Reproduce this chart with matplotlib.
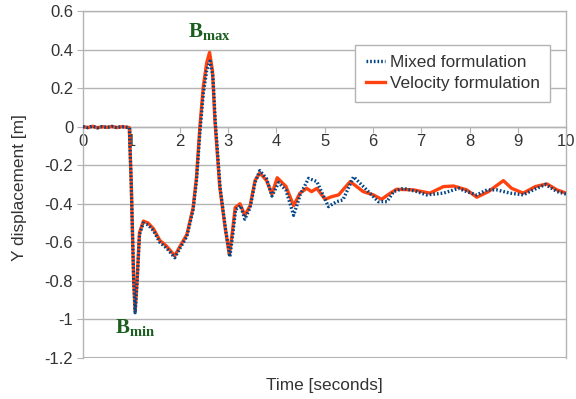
import matplotlib
matplotlib.use("Agg")
import matplotlib.pyplot as plt

plt.rcParams['font.family'] = ['Liberation Sans', 'DejaVu Sans']
plt.rcParams['mathtext.fontset'] = 'custom'
plt.rcParams['mathtext.rm'] = 'Liberation Serif'
plt.rcParams['mathtext.bf'] = 'Liberation Serif:bold'

# Velocity formulation
t_vel = [0, 0.1, 0.2, 0.3, 0.4, 0.5, 0.6, 0.7, 0.8, 0.9, 0.96, 1.0, 1.05, 1.08, 1.12, 1.17,
         1.25, 1.35, 1.46, 1.59, 1.73, 1.9, 2.01, 2.15, 2.28, 2.35, 2.42, 2.49, 2.56, 2.62,
         2.68, 2.73, 2.83, 2.94, 3.03, 3.09, 3.15, 3.25, 3.35, 3.46, 3.56, 3.66, 3.8, 3.91,
         4.02, 4.2, 4.36, 4.49, 4.63, 4.73, 4.84, 5.01, 5.15, 5.29, 5.53, 5.8, 6.01, 6.18,
         6.36, 6.49, 6.84, 7.18, 7.46, 7.67, 7.94, 8.15, 8.39, 8.7, 8.87, 9.11, 9.36, 9.6,
         9.81, 10.0]
v_vel = [0, -0.005, 0.002, -0.006, 0.0, -0.004, 0.001, -0.005, 0.0, -0.003, -0.005, -0.3,
         -0.8, -0.955, -0.8, -0.55, -0.49, -0.5, -0.53, -0.59, -0.62, -0.67, -0.62, -0.56,
         -0.42, -0.26, 0.0, 0.207, 0.33, 0.385, 0.29, 0.035, -0.31, -0.52, -0.665, -0.55,
         -0.42, -0.40, -0.46, -0.41, -0.28, -0.24, -0.28, -0.35, -0.265, -0.31, -0.41,
         -0.345, -0.32, -0.337, -0.32, -0.377, -0.363, -0.354, -0.285, -0.337, -0.354,
         -0.377, -0.345, -0.325, -0.328, -0.345, -0.311, -0.308, -0.328, -0.366, -0.337,
         -0.28, -0.32, -0.345, -0.311, -0.297, -0.328, -0.345]

# Mixed formulation
t_mix = [0, 0.1, 0.2, 0.3, 0.4, 0.5, 0.6, 0.7, 0.8, 0.9, 0.96, 1.0, 1.05, 1.08, 1.12, 1.17,
         1.25, 1.35, 1.46, 1.59, 1.73, 1.9, 2.01, 2.15, 2.28, 2.35, 2.42, 2.49, 2.56, 2.63,
         2.69, 2.74, 2.84, 2.95, 3.04, 3.1, 3.16, 3.26, 3.35, 3.46, 3.56, 3.66, 3.8, 3.91,
         4.05, 4.2, 4.36, 4.5, 4.67, 4.84, 5.08, 5.25, 5.38, 5.6, 5.84, 6.11, 6.29, 6.43,
         6.63, 6.91, 7.11, 7.46, 7.77, 7.94, 8.15, 8.36, 8.56, 8.84, 9.11, 9.32, 9.57, 9.81,
         10.0]
v_mix = [0, -0.005, 0.002, -0.006, 0.0, -0.004, 0.001, -0.005, 0.0, -0.003, -0.005, -0.3,
         -0.8, -0.965, -0.81, -0.56, -0.5, -0.51, -0.54, -0.6, -0.63, -0.68, -0.63, -0.57,
         -0.43, -0.28, -0.03, 0.17, 0.29, 0.34, 0.26, 0.02, -0.32, -0.53, -0.675, -0.56,
         -0.43, -0.41, -0.48, -0.42, -0.29, -0.228, -0.27, -0.36, -0.29, -0.33, -0.46,
         -0.35, -0.268, -0.285, -0.415, -0.389, -0.38, -0.26, -0.32, -0.389, -0.389,
         -0.337, -0.32, -0.337, -0.354, -0.345, -0.32, -0.337, -0.354, -0.328, -0.328,
         -0.345, -0.354, -0.328, -0.30, -0.337, -0.35]

x_ticks = list(range(0, 11))
y_ticks = [0.6, 0.4, 0.2, 0, -0.2, -0.4, -0.6, -0.8, -1, -1.2]
y_tick_labels = ['0.6', '0.4', '0.2', '0', '-0.2', '-0.4', '-0.6', '-0.8', '-1', '-1.2']

fig = plt.figure(figsize=(5.76, 3.99), dpi=100)
ax = fig.add_axes([0.144, 0.1028, 0.839, 0.8697])

grid_c = '#b3b3b3'
text_c = '#333333'

ax.plot(t_vel, v_vel, color='#ff420e', lw=2.4, solid_joinstyle='round',
        label='Velocity formulation', zorder=3)
ax.plot(t_mix, v_mix, color='#004586', lw=2.4, linestyle=(0, (0.5, 0.6)),
        dash_capstyle='butt', label='Mixed formulation', zorder=4)

ax.set_xlim(0, 10)
ax.set_ylim(-1.2, 0.6)
ax.set_xticks(x_ticks)
ax.set_yticks(y_ticks)
ax.set_yticklabels(y_tick_labels)
ax.yaxis.grid(True, color=grid_c, lw=1)
ax.set_axisbelow(True)

for s in ['left', 'right', 'top', 'bottom']:
    ax.spines[s].set_color(grid_c)
    ax.spines[s].set_linewidth(1)
ax.spines['bottom'].set_position(('data', 0))
ax.axhline(-1.2, color=grid_c, lw=1.5, zorder=1)

ax.tick_params(axis='both', colors=grid_c, labelcolor=text_c, labelsize=12, length=4)
ax.tick_params(axis='x', pad=1)
ax.tick_params(axis='y', pad=3)

ax.set_ylabel('Y displacement [m]', color=text_c, fontsize=12.4)
ax.yaxis.set_label_coords(-0.115, 0.49)
ax.set_xlabel('Time [seconds]', color=text_c, fontsize=12.4)
ax.xaxis.set_label_coords(0.5, -0.057)

h, l = ax.get_legend_handles_labels()
leg = ax.legend([h[1], h[0]], [l[1], l[0]], loc='upper right',
                bbox_to_anchor=(0.967, 0.902), borderaxespad=0, fancybox=False,
                framealpha=1, edgecolor=grid_c, fontsize=12.4, handlelength=1.1,
                handletextpad=0.3, borderpad=0.6, labelspacing=0.35)
for txt in leg.get_texts():
    txt.set_color(text_c)
leg.get_frame().set_linewidth(1)

green = '#1b5e20'
ax.text(2.62, 0.49, r'$\mathbf{B}_{\mathbf{max}}$', color=green, fontsize=15,
        ha='center', va='center')
ax.text(0.66, -1.045, r'$\mathbf{B}_{\mathbf{min}}$', color=green, fontsize=15,
        ha='left', va='center')

fig.savefig('out.png', dpi=100)
